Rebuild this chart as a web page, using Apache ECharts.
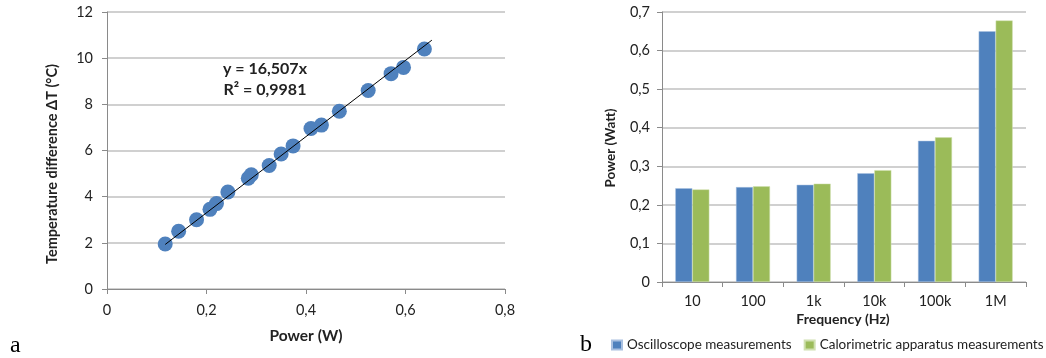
<!DOCTYPE html>
<html>
<head>
<meta charset="utf-8">
<script src="https://cdn.jsdelivr.net/npm/echarts@6/dist/echarts.min.js"></script>
<style>
  html, body { margin: 0; padding: 0; background: #fff; }
  #chart { width: 1046px; height: 358px; }
</style>
</head>
<body>
<div id="chart"></div>
<script>
// panel a: power vs temperature difference
var powerW = [0.117, 0.144, 0.180, 0.207, 0.220, 0.243, 0.284, 0.290, 0.326, 0.350,
              0.374, 0.410, 0.431, 0.467, 0.525, 0.571, 0.596, 0.638];
var deltaT = [1.95, 2.50, 3.00, 3.45, 3.70, 4.20, 4.80, 4.95, 5.35, 5.85,
              6.20, 6.95, 7.10, 7.70, 8.60, 9.33, 9.60, 10.40];
// trend line end points (y = 16,507x)
var trendX = [0.117, 0.653];
var trendY = [1.93, 10.78];

// panel b: power per frequency
var freqLabels = ['10', '100', '1k', '10k', '100k', '1M'];
var oscilloscope = [0.243, 0.246, 0.252, 0.282, 0.366, 0.650];
var calorimetric = [0.240, 0.248, 0.255, 0.290, 0.375, 0.678];

var font = 'Lato, "Open Sans", sans-serif';
var gridColor = '#c0c0c0';
var axisColor = '#8a8a8a';

function comma(v) {
    return String(v).replace('.', ',');
}

var scatterData = powerW.map(function (x, i) { return [x, deltaT[i]]; });
var trendData = trendX.map(function (x, i) { return [x, trendY[i]]; });

var chart = echarts.init(document.getElementById('chart'));
var option = {
    animation: false,
    textStyle: { fontFamily: font },
    grid: [
        { left: 107, top: 12, width: 398, height: 277 },
        { left: 662, top: 12, width: 364, height: 270 }
    ],
    xAxis: [{
        gridIndex: 0,
        type: 'value',
        min: 0, max: 0.8, interval: 0.2,
        axisLine: { lineStyle: { color: axisColor } },
        axisTick: { show: true, length: 5, lineStyle: { color: axisColor } },
        splitLine: { show: false },
        axisLabel: { color: '#222', fontSize: 14.5, margin: 14, fontFamily: font, formatter: comma }
    }, {
        gridIndex: 1,
        type: 'category',
        data: freqLabels,
        axisLine: { lineStyle: { color: axisColor } },
        axisTick: { show: true, length: 5, lineStyle: { color: axisColor } },
        axisLabel: { color: '#222', fontSize: 14.5, margin: 12, fontFamily: font }
    }],
    yAxis: [{
        gridIndex: 0,
        type: 'value',
        min: 0, max: 12, interval: 2,
        axisLine: { show: true, lineStyle: { color: axisColor } },
        axisTick: { show: true, length: 5, lineStyle: { color: axisColor } },
        splitLine: { lineStyle: { color: gridColor, width: 1.5 } },
        axisLabel: { color: '#222', fontSize: 14.5, margin: 14, fontFamily: font }
    }, {
        gridIndex: 1,
        type: 'value',
        min: 0, max: 0.7, interval: 0.1,
        axisLine: { show: true, lineStyle: { color: axisColor } },
        axisTick: { show: true, length: 5, lineStyle: { color: axisColor } },
        splitLine: { lineStyle: { color: gridColor, width: 1.5 } },
        axisLabel: { color: '#222', fontSize: 14.5, margin: 12, fontFamily: font,
            formatter: function (v) { return comma(Math.round(v * 10) / 10); } }
    }],
    legend: {
        left: 606, top: 333, width: 440,
        itemWidth: 10, itemHeight: 9, itemGap: 12,
        icon: 'rect',
        textStyle: { color: '#222', fontSize: 13.5, fontFamily: font },
        data: ['Oscilloscope measurements', 'Calorimetric apparatus measurements']
    },
    series: [{
        type: 'scatter',
        xAxisIndex: 0, yAxisIndex: 0,
        data: scatterData,
        symbolSize: 15,
        itemStyle: { color: '#4f81bd', opacity: 1 },
        z: 2
    }, {
        type: 'line',
        xAxisIndex: 0, yAxisIndex: 0,
        data: trendData,
        symbol: 'none',
        lineStyle: { color: '#000', width: 1 },
        z: 3
    }, {
        name: 'Oscilloscope measurements',
        type: 'bar',
        xAxisIndex: 1, yAxisIndex: 1,
        data: oscilloscope,
        barWidth: 17,
        barGap: '0%',
        itemStyle: { color: '#4f81bd', borderColor: '#a9c0e0', borderWidth: 0.5 }
    }, {
        name: 'Calorimetric apparatus measurements',
        type: 'bar',
        xAxisIndex: 1, yAxisIndex: 1,
        data: calorimetric,
        barWidth: 17,
        barGap: '0%',
        itemStyle: { color: '#9bbb59', borderColor: '#d0e0b0', borderWidth: 0.5 }
    }],
    graphic: [
        { type: 'text', x: 265, y: 69, style: { text: 'y = 16,507x', font: 'bold 16px ' + font, fill: '#222', align: 'center', verticalAlign: 'middle' } },
        { type: 'text', x: 265, y: 90, style: { text: 'R² = 0,9981', font: 'bold 16px ' + font, fill: '#222', align: 'center', verticalAlign: 'middle' } },
        { type: 'text', x: 52, y: 164, rotation: Math.PI / 2, style: { text: 'Temperature difference ΔT (°C)', font: 'bold 14.5px ' + font, fill: '#222', align: 'center', verticalAlign: 'middle' } },
        { type: 'text', x: 306, y: 336, style: { text: 'Power (W)', font: 'bold 15.5px ' + font, fill: '#222', align: 'center', verticalAlign: 'middle' } },
        { type: 'text', x: 611, y: 148, rotation: Math.PI / 2, style: { text: 'Power (Watt)', font: 'bold 13.5px ' + font, fill: '#222', align: 'center', verticalAlign: 'middle' } },
        { type: 'text', x: 843, y: 319, style: { text: 'Frequency (Hz)', font: 'bold 14px ' + font, fill: '#222', align: 'center', verticalAlign: 'middle' } },
        { type: 'text', x: 10, y: 346, style: { text: 'a', font: '24px "Liberation Serif", serif', fill: '#000', verticalAlign: 'middle' } },
        { type: 'text', x: 580, y: 345, style: { text: 'b', font: '24px "Liberation Serif", serif', fill: '#000', verticalAlign: 'middle' } }
    ]
};
chart.setOption(option);
</script>
</body>
</html>
